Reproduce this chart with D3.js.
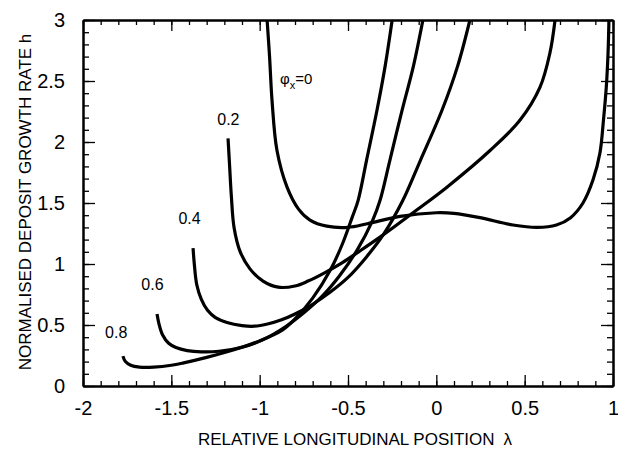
<!DOCTYPE html>
<html>
<head>
<meta charset="utf-8">
<script src="https://cdn.jsdelivr.net/npm/d3@7"></script>
<style>
  body { margin: 0; background: #fff; }
  svg { display: block; font-family: "Liberation Sans", Arial, Helvetica, sans-serif; }
</style>
</head>
<body>
<div id="chart"></div>
<script>
// curve labels (phi_x values)
var phiLabels = ['0', '0.2', '0.4', '0.6', '0.8']

// [lambda, h] for each phi_x
var curvePhi0 = [[-0.958,3.0],[-0.944,2.7],[-0.930,2.34],[-0.902,1.93],[-0.845,1.63],[-0.78,1.45],[-0.715,1.36],
  [-0.62,1.31],[-0.5,1.30],[-0.39,1.33],[-0.206,1.39],[0.0,1.42],[0.1,1.415],[0.247,1.38],[0.434,1.32],
  [0.57,1.30],[0.68,1.32],[0.76,1.38],[0.83,1.50],[0.887,1.69],[0.926,1.91],[0.946,2.18],[0.962,2.45],
  [0.972,2.73],[0.977,3.0]]
var curvePhi02 = [[-1.179,2.03],[-1.17,1.80],[-1.16,1.55],[-1.145,1.30],[-1.11,1.10],[-1.055,0.96],[-0.981,0.86],
  [-0.895,0.81],[-0.80,0.82],[-0.726,0.86],[-0.63,0.93],[-0.534,1.01],[-0.44,1.10],[-0.319,1.22],[-0.132,1.42],
  [0.06,1.63],[0.304,1.93],[0.474,2.18],[0.587,2.45],[0.643,2.73],[0.672,3.0]]
var curvePhi04 = [[-1.377,1.13],[-1.37,1.00],[-1.356,0.83],[-1.33,0.71],[-1.295,0.62],[-1.25,0.56],[-1.185,0.52],
  [-1.10,0.495],[-1.03,0.49],[-0.95,0.51],[-0.88,0.54],[-0.80,0.59],[-0.70,0.67],[-0.60,0.77],[-0.50,0.89],
  [-0.40,1.05],[-0.30,1.24],[-0.19,1.52],[-0.09,1.85],[0.032,2.26],[0.12,2.62],[0.19,3.0]]
var curvePhi06 = [[-1.581,0.59],[-1.57,0.51],[-1.55,0.42],[-1.515,0.35],[-1.474,0.315],[-1.41,0.29],[-1.33,0.28],
  [-1.23,0.285],[-1.094,0.32],[-0.98,0.38],[-0.85,0.49],[-0.75,0.60],[-0.65,0.73],[-0.55,0.90],[-0.45,1.11],
  [-0.36,1.36],[-0.319,1.52],[-0.263,1.85],[-0.194,2.26],[-0.13,2.62],[-0.076,3.0]]
var curvePhi08 = [[-1.774,0.245],[-1.76,0.20],[-1.73,0.17],[-1.68,0.155],[-1.60,0.155],[-1.50,0.17],[-1.43,0.19],
  [-1.30,0.235],[-1.15,0.295],[-1.00,0.37],[-0.87,0.46],[-0.80,0.55],[-0.70,0.72],[-0.60,0.95],[-0.53,1.17],
  [-0.477,1.38],[-0.443,1.52],[-0.395,1.85],[-0.336,2.26],[-0.29,2.62],[-0.25,3.0]]

var xTicks = [-2, -1.5, -1, -0.5, 0, 0.5, 1]
var yTicks = [0, 0.5, 1, 1.5, 2, 2.5, 3]

var curves = [curvePhi0, curvePhi02, curvePhi04, curvePhi06, curvePhi08]

var W = 618, H = 450
var margin = {top: 20, right: 5, bottom: 64, left: 83}

var x = d3.scaleLinear().domain([-2, 1]).range([margin.left, W - margin.right])
var y = d3.scaleLinear().domain([0, 3]).range([H - margin.bottom, margin.top])

var svg = d3.select('#chart').append('svg')
  .attr('width', W)
  .attr('height', H)

svg.append('defs').append('clipPath').attr('id', 'plot')
  .append('rect')
    .attr('x', x(-2)).attr('y', y(3))
    .attr('width', x(1) - x(-2)).attr('height', y(0) - y(3))

var minorX = d3.range(-20, 11).map((d) => d / 10)
var minorY = d3.range(0, 31).map((d) => d / 10)

function styleAxis(g) {
  g.select('.domain').attr('stroke', '#000').attr('stroke-width', 2)
  g.selectAll('.tick line').attr('stroke', '#000').attr('stroke-width', 1.3)
  g.selectAll('text').attr('fill', '#000').attr('font-size', 20)
}

// minor ticks (all four sides)
svg.append('g').attr('transform', 'translate(0,' + y(0) + ')')
  .call(d3.axisBottom(x).tickValues(minorX).tickSize(-5).tickSizeOuter(0).tickFormat(''))
  .call(styleAxis)
svg.append('g').attr('transform', 'translate(0,' + y(3) + ')')
  .call(d3.axisTop(x).tickValues(minorX).tickSize(-5).tickSizeOuter(0).tickFormat(''))
  .call(styleAxis)
svg.append('g').attr('transform', 'translate(' + x(-2) + ',0)')
  .call(d3.axisLeft(y).tickValues(minorY).tickSize(-6).tickSizeOuter(0).tickFormat(''))
  .call(styleAxis)
svg.append('g').attr('transform', 'translate(' + x(1) + ',0)')
  .call(d3.axisRight(y).tickValues(minorY).tickSize(-6).tickSizeOuter(0).tickFormat(''))
  .call(styleAxis)

// major ticks + labels
svg.append('g').attr('transform', 'translate(0,' + y(0) + ')')
  .call(d3.axisBottom(x).tickValues(xTicks).tickSize(-11).tickSizeOuter(0).tickPadding(15).tickFormat((d) => String(d)))
  .call(styleAxis)
svg.append('g').attr('transform', 'translate(0,' + y(3) + ')')
  .call(d3.axisTop(x).tickValues(xTicks).tickSize(-11).tickSizeOuter(0).tickFormat(''))
  .call(styleAxis)
svg.append('g').attr('transform', 'translate(' + x(-2) + ',0)')
  .call(d3.axisLeft(y).tickValues(yTicks).tickSize(-12).tickSizeOuter(0).tickPadding(18).tickFormat((d) => String(d)))
  .call(styleAxis)
svg.append('g').attr('transform', 'translate(' + x(1) + ',0)')
  .call(d3.axisRight(y).tickValues(yTicks).tickSize(-12).tickSizeOuter(0).tickFormat(''))
  .call(styleAxis)

var line = d3.line()
  .x((d) => x(d[0]))
  .y((d) => y(d[1]))
  .curve(d3.curveCatmullRom.alpha(0.5))

svg.append('g').attr('clip-path', 'url(#plot)')
  .selectAll('path')
  .data(curves)
  .enter()
    .append('path')
    .attr('d', line)
    .attr('fill', 'none')
    .attr('stroke', '#000')
    .attr('stroke-width', 3.2)
    .attr('stroke-linecap', 'butt')

// curve labels, anchored in data units (left edge, baseline)
var labelAt = [[-0.885, 2.475], [-1.24, 2.14], [-1.46, 1.328], [-1.67, 0.787], [-1.875, 0.393]]
var labels = svg.append('g').attr('font-size', 16).attr('fill', '#000')
phiLabels.forEach((t, i) => {
  var tx = labels.append('text')
    .attr('x', x(labelAt[i][0]))
    .attr('y', y(labelAt[i][1]))
  if (i == 0) {
    tx.attr('font-size', 15)
    tx.append('tspan').text('\u03c6')
    tx.append('tspan').attr('font-size', 11).attr('dy', 5).text('x')
    tx.append('tspan').attr('dy', -5).text('=' + t)
  } else {
    tx.text(t)
  }
})

// axis titles
svg.append('text')
  .attr('x', 355).attr('y', 445)
  .attr('text-anchor', 'middle')
  .attr('font-size', 17)
  .text('RELATIVE LONGITUDINAL POSITION')
  .append('tspan').attr('dx', 9).text('\u03bb')

svg.append('text')
  .attr('transform', 'translate(31,' + 202 + ') rotate(-90)')
  .attr('text-anchor', 'middle')
  .attr('font-size', 17)
  .text('NORMALISED DEPOSIT GROWTH RATE h')
</script>
</body>
</html>
